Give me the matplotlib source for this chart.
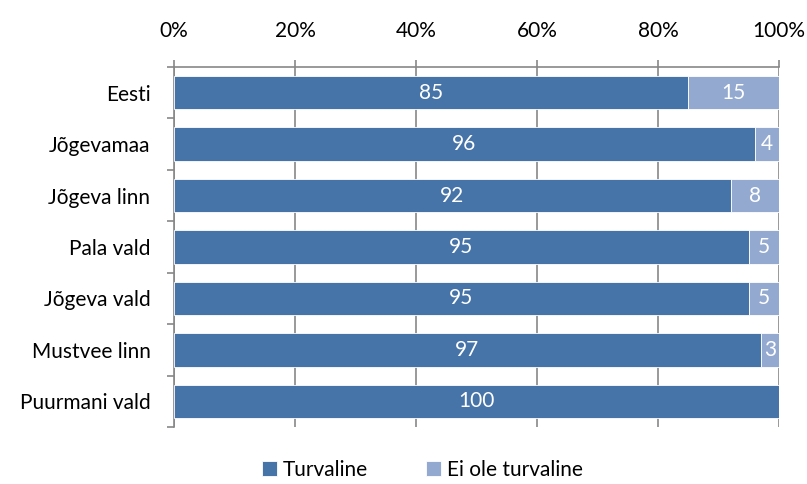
import numpy as np
import matplotlib.pyplot as plt

categories = ["Eesti", "Jõgevamaa", "Jõgeva linn", "Pala vald",
              "Jõgeva vald", "Mustvee linn", "Puurmani vald"]
turvaline = [85, 96, 92, 95, 95, 97, 100]
ei_ole = [15, 4, 8, 5, 5, 3, 0]

dark = "#4674A8"
light = "#93A9CF"
grid_c = "#878787"

plt.rcParams["font.family"] = ["Lato", "DejaVu Sans"]
fs = 15

fig = plt.figure(figsize=(8.07, 4.84), dpi=100)
ax = fig.add_axes([174 / 807, 1 - 427 / 484, 605 / 807, 360 / 484])

y = np.arange(len(categories))
b1 = ax.barh(y, turvaline, height=0.65, color=dark, edgecolor="white",
             linewidth=0.6, label="Turvaline", zorder=3)
b2 = ax.barh(y, ei_ole, left=turvaline, height=0.65, color=light,
             edgecolor="white", linewidth=0.6, label="Ei ole turvaline", zorder=3)

for i in range(len(categories)):
    ax.text(turvaline[i] / 2, y[i], str(turvaline[i]), ha="center",
            va="center", color="white", fontsize=fs, zorder=4)
    if ei_ole[i] > 0:
        ax.text(turvaline[i] + ei_ole[i] / 2, y[i], str(ei_ole[i]),
                ha="center", va="center", color="white", fontsize=fs, zorder=4)

ax.set_xlim(0, 100)
ax.set_ylim(len(categories) - 0.5, -0.5)

ax.xaxis.tick_top()
ax.set_xticks(np.arange(0, 101, 20))
ax.set_xticklabels([f"{v}%" for v in range(0, 101, 20)])
ax.tick_params(axis="x", length=5, color=grid_c, width=1.2, pad=14,
               labelsize=fs)
ax.grid(axis="x", color=grid_c, linewidth=1.2, zorder=0)

ax.set_yticks(y)
ax.set_yticklabels(categories)
ax.set_yticks(np.arange(-0.5, len(categories)), minor=True)
ax.tick_params(axis="y", which="major", length=0, pad=17, labelsize=fs)
ax.tick_params(axis="y", which="minor", length=5, color=grid_c, width=1.2)

for s in ["right", "bottom"]:
    ax.spines[s].set_visible(False)
for s in ["left", "top"]:
    ax.spines[s].set_color(grid_c)
    ax.spines[s].set_linewidth(1.2)

fig.legend(handles=[b1, b2], loc="center", bbox_to_anchor=(422 / 807, 1 - 470 / 484),
           ncol=2, frameon=False, fontsize=fs, handlelength=0.75,
           handleheight=0.75, handletextpad=0.25, columnspacing=2.8)

fig.savefig("out.png", dpi=100)
